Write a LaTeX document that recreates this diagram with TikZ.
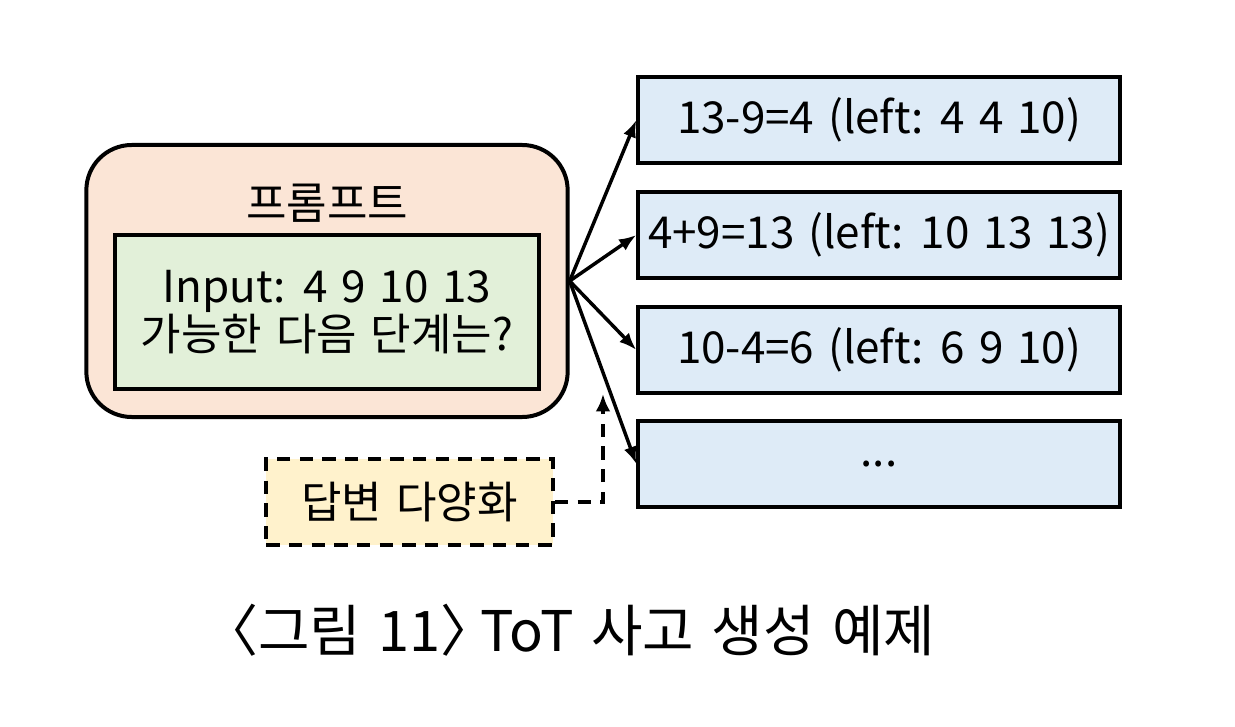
\documentclass[tikz,border=0pt]{standalone}
\usepackage{fontspec}
\setmainfont[WordSpace=1.4]{Noto Sans CJK KR}
\usetikzlibrary{arrows.meta, positioning}
\usepackage{xcolor}
\definecolor{promptfill}{HTML}{FBE5D6}
\definecolor{inputfill}{HTML}{E2F0D9}
\definecolor{stepfill}{HTML}{DEEBF7}
\definecolor{varyfill}{HTML}{FFF2CC}

\begin{document}
\begin{tikzpicture}[x=0.75pt,y=-0.75pt]
\tikzstyle{thought} = [
	shape=rectangle,
	draw=black, %border of the node
	fill=stepfill, %fill of the node
	line width=3pt,
	minimum width=361pt,
	minimum height=64pt,
	inner sep=0pt,
	font=\fontsize{33}{38}\selectfont
];
\tikzstyle{branch} = [
	-{Latex[length=13pt,width=10pt]},
	line width=2.6pt,
	draw=black
];

\useasboundingbox (0,0) rectangle (1235,727);

%prompt
\node[draw=black, fill=promptfill, line width=3pt, rounded corners=34pt,
	minimum width=361pt, minimum height=204pt, inner sep=0pt](Prompt) at (327,281) {};
\node[font=\fontsize{33}{38}\selectfont](PromptTitle) at (327,203) {프롬프트};
\node[draw=black, fill=inputfill, line width=3pt, minimum width=318pt,
	minimum height=115pt, inner sep=0pt, align=center,
	font=\fontsize{33}{34}\selectfont](Input) at (327,312) {Input: 4 9 10 13\\가능한 다음 단계는?};

%thoughts
\node[thought](T1) at (879,120) {13-9=4 (left: 4 4 10)};
\node[thought](T2) at (879,235) {4+9=13 (left: 10 13 13)};
\node[thought](T3) at (879,350) {10-4=6 (left: 6 9 10)};
\node[thought](T4) at (879,464) {...};

\foreach \t in {T1,T2,T3,T4}
	\draw[branch] (Prompt.east) -- (\t.west);

%diversify
\node[draw=black, dash pattern=on 10pt off 7pt, fill=varyfill, line width=3pt,
	minimum width=215pt, minimum height=64pt, inner sep=0pt,
	font=\fontsize{33}{38}\selectfont](Vary) at (409.5,502) {답변 다양화};
\coordinate (VaryEnd) at (603,394);
\draw[-{Latex[length=13pt,width=11pt]}, line width=3pt, dash pattern=on 10pt off 7pt]
	(Vary.east) -| (VaryEnd);

%caption
\node[font=\fontsize{42}{44}\selectfont](Caption) at (580,630) {\kern-0.4em〈그림 11〉\kern-0.3em ToT 사고 생성 예제};
\end{tikzpicture}
\end{document}
